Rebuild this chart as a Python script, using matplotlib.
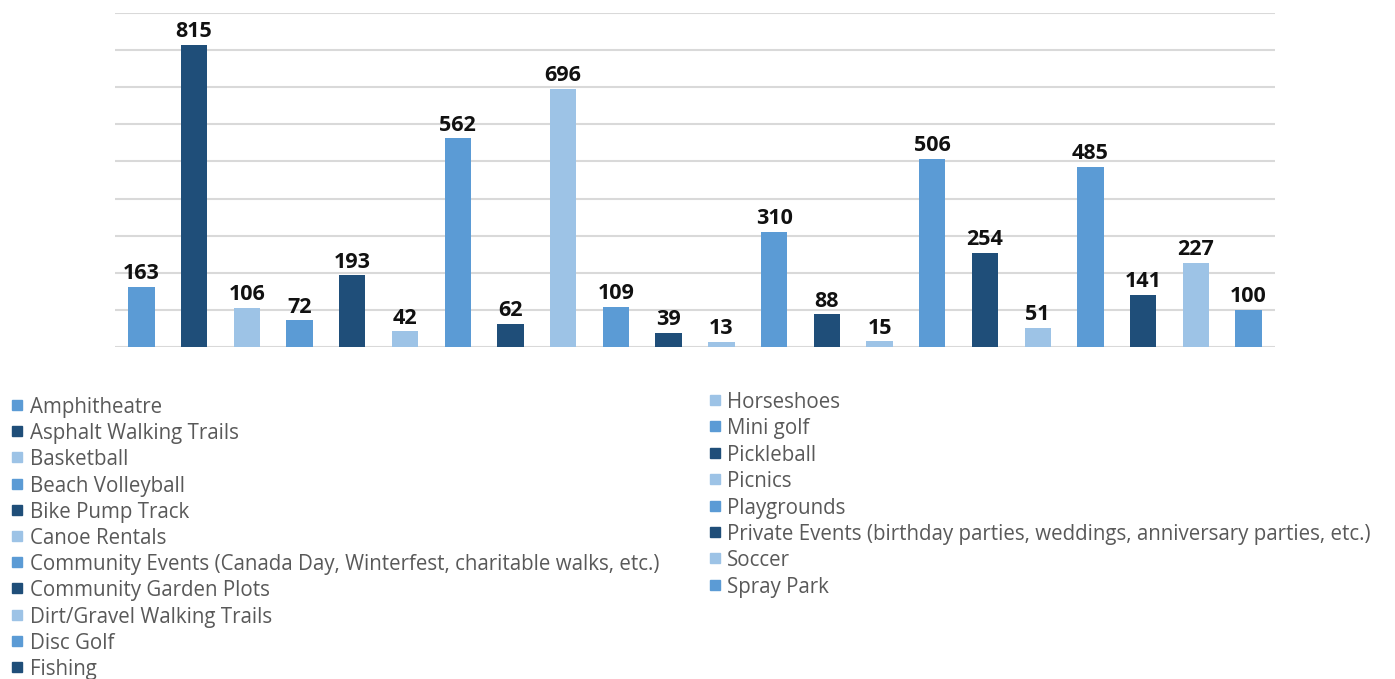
import matplotlib
matplotlib.use("Agg")
import matplotlib.pyplot as plt
from matplotlib.patches import Rectangle

# amenity usage counts, in chart order (3 legend entries are cut off in the source)
categories = [
    "Amphitheatre", "Asphalt Walking Trails", "Basketball", "Beach Volleyball",
    "Bike Pump Track", "Canoe Rentals",
    "Community Events (Canada Day, Winterfest, charitable walks, etc.)",
    "Community Garden Plots", "Dirt/Gravel Walking Trails", "Disc Golf", "Fishing",
    "", "", "",
    "Horseshoes", "Mini golf", "Pickleball", "Picnics", "Playgrounds",
    "Private Events (birthday parties, weddings, anniversary parties, etc.)",
    "Soccer", "Spray Park",
]
values = [163, 815, 106, 72, 193, 42, 562, 62, 696, 109, 39,
          13, 310, 88, 15, 506, 254, 51, 485, 141, 227, 100]
palette = ["#5b9bd5", "#1f4e79", "#9dc3e6"]
colors = [palette[i % 3] for i in range(len(values))]

plt.rcParams["font.family"] = ["Open Sans", "DejaVu Sans"]

W, H = 1395, 679
fig = plt.figure(figsize=(W / 100, H / 100), dpi=100)
ax = fig.add_axes([115 / W, 1 - 347 / H, 1160 / W, 334 / H])

x = list(range(len(values)))
bars = ax.bar(x, values, width=0.5, color=colors, zorder=3)
for b, v in zip(bars, values):
    ax.annotate(str(v), (b.get_x() + b.get_width() / 2, v), xytext=(0, 2),
                textcoords="offset points", ha="center", va="bottom",
                fontsize=15.5, fontweight="bold", color="#111111")

ax.set_xlim(-0.5, len(values) - 0.5)
ax.set_ylim(0, 900)
ax.set_yticks(range(0, 901, 100))
ax.yaxis.grid(True, color="#d9d9d9", linewidth=1.5, zorder=0)
ax.tick_params(left=False, bottom=False, labelleft=False, labelbottom=False)
for s in ax.spines.values():
    s.set_visible(False)

# legend: two columns, the left one runs past the bottom edge
def legend_column(items, x_sq, x_txt, y0, dy):
    for i, (lab, c) in enumerate(items):
        yc = y0 + i * dy
        fig.patches.append(Rectangle((x_sq / W, 1 - (yc + 5) / H), 10 / W, 10 / H,
                                     transform=fig.transFigure, color=c))
        fig.text(x_txt / W, 1 - yc / H, lab, ha="left", va="center_baseline",
                 fontsize=14.8, color="#595959")

items = list(zip(categories, colors))
legend_column(items[:14], 12, 30, 405, 26.2)
legend_column(items[14:], 710, 727, 400, 26.4)

fig.savefig("out.png", dpi=100)
